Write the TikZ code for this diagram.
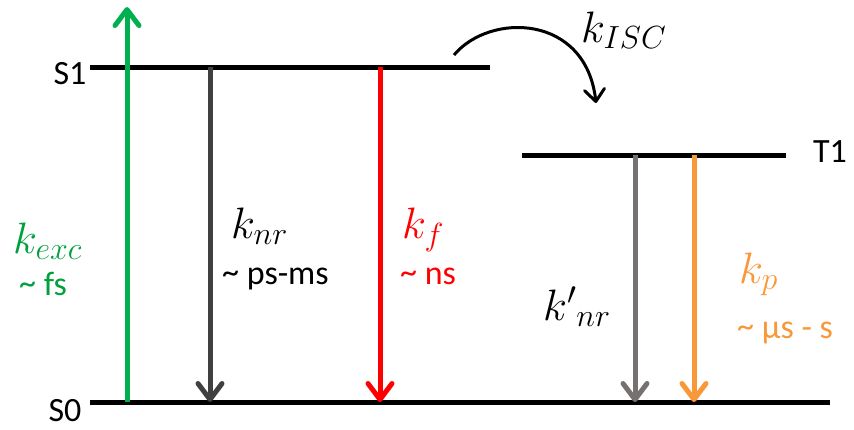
\documentclass[tikz,border=0pt]{standalone}
\usepackage{fix-cm}
\usepackage{fontspec}
\setmainfont{Carlito}
\usetikzlibrary{arrows.meta}
\DeclareMathSizes{44}{44}{32}{24}
\definecolor{cgreen}{RGB}{0,176,80}
\definecolor{cgreentxt}{RGB}{0,160,60}
\definecolor{cdark}{RGB}{64,64,64}
\definecolor{cred}{RGB}{255,0,0}
\definecolor{cgray}{RGB}{118,113,113}
\definecolor{corange}{RGB}{248,152,56}
\newcommand{\tld}{\raisebox{1pt}{\char`~}}
\tikzset{
  lvl/.style={line width=5pt, black},
  trans/.style={line width=5pt, -{Straight Barb[length=16pt, width=24pt, line cap=round, line join=round]}},
  isc/.style={line width=3pt, black, -{Straight Barb[length=12pt, width=20pt, line cap=round, line join=round]}},
  lvllabel/.style={font=\fontsize{34}{38}\selectfont, inner sep=0pt},
  ratelabel/.style={font=\fontsize{44}{48}\selectfont, inner sep=0pt, anchor=base west},
  timelabel/.style={font=\fontsize{34}{38}\selectfont, inner sep=0pt, anchor=base west},
}
\begin{document}
\begin{tikzpicture}[x=1pt,y=-1pt]
\useasboundingbox (0,0) rectangle (854,429);
% levels
\coordinate (s1l) at (90,67);
\coordinate (s1r) at (490,67);
\coordinate (s0l) at (90,402);
\coordinate (s0r) at (830,402);
\coordinate (t1l) at (522,155);
\coordinate (t1r) at (786,155);
\draw[lvl] (s1l) -- (s1r);
\draw[lvl] (s0l) -- (s0r);
\draw[lvl] (t1l) -- (t1r);
% level labels
\node[lvllabel] (lS1) at (70,74) {S1};
\node[lvllabel] (lS0) at (65,411) {S0};
\node[lvllabel] (lT1) at (830,152) {T1};
% transition end points
\coordinate (exc0) at (127,402);
\coordinate (exc1) at (127,7);
\coordinate (nr1) at (210,67);
\coordinate (nr0) at (210,402);
\coordinate (f1) at (380,67);
\coordinate (f0) at (380,402);
\coordinate (nrp1) at (635,155);
\coordinate (nrp0) at (635,402);
\coordinate (p1) at (694,155);
\coordinate (p0) at (694,402);
\coordinate (isc0) at (454,55);
\coordinate (isc1) at (596,103);
% transitions
\draw[trans, cgreen] (exc0) -- (exc1);
\draw[trans, cdark] (nr1) -- (nr0);
\draw[trans, cred] (f1) -- (f0);
\draw[trans, cgray] (nrp1) -- (nrp0);
\draw[trans, corange] (p1) -- (p0);
\draw[isc] (isc0) .. controls (490,12) and (586,14) .. (isc1);
% rate labels
\node[ratelabel, text=cgreentxt] (kexc) at (13,253) {$k_{exc}$};
\node[timelabel, text=cgreentxt] (texc) at (19,295) {\tld{} fs};
\node[ratelabel, text=black] (knr) at (231,238) {$k_{nr}$};
\node[timelabel, text=black] (tnr) at (222,284) {\tld{} ps-ms};
\node[ratelabel, text=cred] (kf) at (402,238) {$k_f$};
\node[timelabel, text=cred] (tf) at (400,284) {\tld{} ns};
\node[ratelabel, text=black] (kisc) at (581,42) {$k_{ISC}$};
\node[ratelabel, text=black] (knrp) at (543,320) {${k'}_{nr}$};
\node[ratelabel, text=corange] (kp) at (739,283) {$k_p$};
\node[timelabel, text=corange] (tp) at (737,338) {\tld{} μs - s};
\end{tikzpicture}
\end{document}
